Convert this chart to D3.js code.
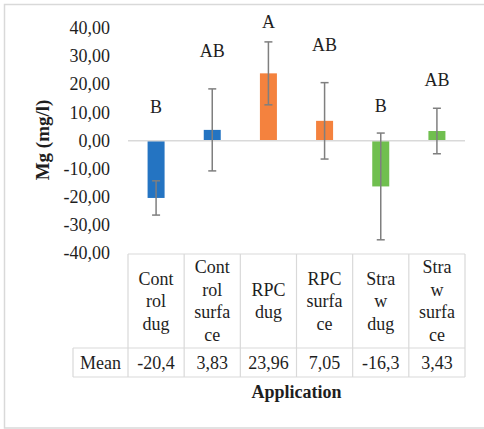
<!DOCTYPE html>
<html>
<head>
<meta charset="utf-8">
<script src="https://cdn.jsdelivr.net/npm/d3@7"></script>
<style>
  body { margin: 0; background: #fff; }
</style>
</head>
<body>
<div id="chart"></div>
<script>
// chart data
var categories = [["Cont", "rol", "dug"], ["Cont", "rol", "surfa", "ce"], ["RPC", "dug"],
                  ["RPC", "surfa", "ce"], ["Stra", "w", "dug"], ["Stra", "w", "surfa", "ce"]];
var means = [-20.4, 3.83, 23.96, 7.05, -16.3, 3.43];
var meanLabels = ["-20,4", "3,83", "23,96", "7,05", "-16,3", "3,43"];
var errors = [6.1, 14.6, 11.2, 13.6, 19.0, 8.1];
var letters = ["B", "AB", "A", "AB", "B", "AB"];
var letterPos = [12.1, 31.9, 42.4, 34.2, 12.3, 21.6];
var colors = ["#2474C2", "#2474C2", "#F4823E", "#F4823E", "#70BF4F", "#70BF4F"];
var yTicks = [40, 30, 20, 10, 0, -10, -20, -30, -40];

var width = 484, height = 429;
var left = 128, right = 465;
var gridColor = "#d9d9d9";
var serif = "Liberation Serif";
var ink = "#1e1e1e";

var svg = d3.select("#chart").append("svg")
    .attr("width", width)
    .attr("height", height);

// helper so every label gets the serif face
function label(parent, size, bold) {
    return parent.append("text")
        .attr("font-family", serif)
        .attr("font-size", size)
        .attr("font-weight", bold ? "bold" : "normal")
        .attr("fill", ink);
}

// outer frame (right side runs off the picture)
svg.append("path")
    .attr("d", "M500,4.5H4.5V428H500")
    .attr("fill", "none")
    .attr("stroke", gridColor)
    .attr("stroke-width", 1.5);

var x = d3.scaleBand()
    .domain(d3.range(categories.length))
    .range([left, right]);

var y = d3.scaleLinear()
    .domain([-40, 40])
    .range([253, 28.3]);

// y tick labels
var fmt = function(v) { return d3.format(".2f")(v).replace(".", ",").replace("−", "-"); };
var gTicks = svg.append("g");
yTicks.forEach(function(d) {
    label(gTicks, 18)
        .attr("x", 110)
        .attr("y", y(d) + 6)
        .attr("text-anchor", "end")
        .text(fmt(d));
});

// y title
label(svg, 19, true)
    .attr("transform", "translate(49,140) rotate(-90)")
    .attr("text-anchor", "middle")
    .text("Mg (mg/l)");

// bars
var barW = 17;
svg.append("g").selectAll("rect")
    .data(means)
    .enter().append("rect")
    .attr("x", function(d, i) { return x(i) + x.bandwidth() / 2 - barW / 2; })
    .attr("y", function(d) { return y(Math.max(0, d)); })
    .attr("width", barW)
    .attr("height", function(d) { return Math.abs(y(d) - y(0)); })
    .attr("fill", function(d, i) { return colors[i]; });

// zero line
svg.append("line")
    .attr("x1", left).attr("x2", right)
    .attr("y1", y(0)).attr("y2", y(0))
    .attr("stroke", gridColor)
    .attr("stroke-width", 1.5);

// error bars
var eb = svg.append("g").attr("stroke", "#7f7f7f").attr("stroke-width", 1.5);
means.forEach(function(m, i) {
    var cx = x(i) + x.bandwidth() / 2;
    var top = y(m + errors[i]), bot = y(m - errors[i]);
    eb.append("line").attr("x1", cx).attr("x2", cx).attr("y1", top).attr("y2", bot);
    eb.append("line").attr("x1", cx - 4).attr("x2", cx + 4).attr("y1", top).attr("y2", top);
    eb.append("line").attr("x1", cx - 4).attr("x2", cx + 4).attr("y1", bot).attr("y2", bot);
});

// significance letters
letters.forEach(function(d, i) {
    label(svg, 18)
        .attr("x", x(i) + x.bandwidth() / 2)
        .attr("y", y(letterPos[i]) + 6)
        .attr("text-anchor", "middle")
        .text(d);
});

// data table
var tTop = 254, tMid = 348, tBot = 377, tLeft = 73;
var tbl = svg.append("g").attr("stroke", gridColor).attr("stroke-width", 1.2);
tbl.append("line").attr("x1", left).attr("x2", right).attr("y1", tTop).attr("y2", tTop);
tbl.append("line").attr("x1", tLeft).attr("x2", right).attr("y1", tMid).attr("y2", tMid);
tbl.append("line").attr("x1", tLeft).attr("x2", right).attr("y1", tBot).attr("y2", tBot);
tbl.append("line").attr("x1", tLeft).attr("x2", tLeft).attr("y1", tMid).attr("y2", tBot);
d3.range(categories.length + 1).forEach(function(i) {
    var xx = i < categories.length ? x(i) : right;
    tbl.append("line").attr("x1", xx).attr("x2", xx).attr("y1", tTop).attr("y2", tBot);
});

var lineH = 22.5;
categories.forEach(function(lines, i) {
    var cx = x(i) + x.bandwidth() / 2;
    var mid = (tTop + tMid) / 2;
    var t = label(svg, 18).attr("text-anchor", "middle");
    lines.forEach(function(s, k) {
        t.append("tspan")
            .attr("x", cx)
            .attr("y", mid + (k - (lines.length - 1) / 2) * lineH + 6)
            .text(s);
    });
});

label(svg, 18)
    .attr("x", (tLeft + left) / 2)
    .attr("y", (tMid + tBot) / 2 + 6)
    .attr("text-anchor", "middle")
    .text("Mean");

meanLabels.forEach(function(d, i) {
    label(svg, 18)
        .attr("x", x(i) + x.bandwidth() / 2)
        .attr("y", (tMid + tBot) / 2 + 6)
        .attr("text-anchor", "middle")
        .text(d);
});

// x title
label(svg, 18, true)
    .attr("x", (left + right) / 2)
    .attr("y", 398)
    .attr("text-anchor", "middle")
    .text("Application");
</script>
</body>
</html>
